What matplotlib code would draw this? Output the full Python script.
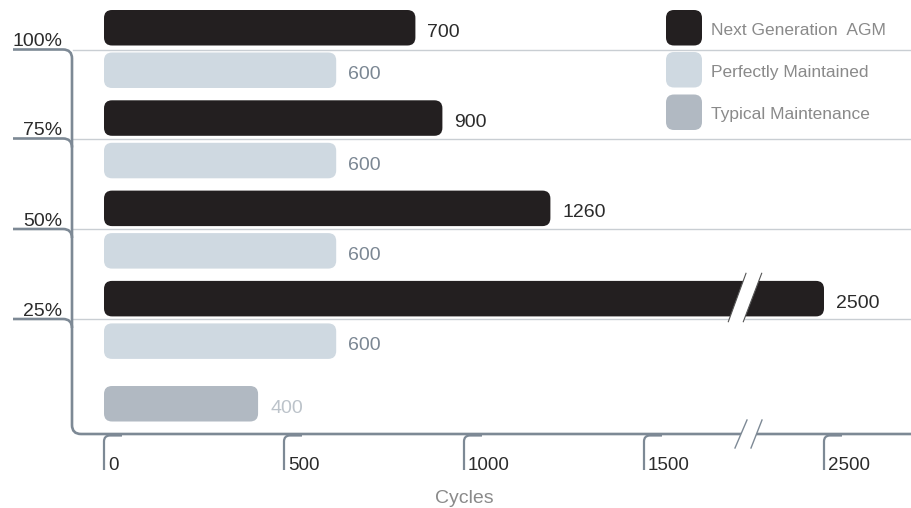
import matplotlib
matplotlib.use("Agg")
import matplotlib.pyplot as plt
from matplotlib.patches import FancyBboxPatch, PathPatch, Polygon
from matplotlib.path import Path

# ---------------- data ----------------
pct_labels = ["100%", "75%", "50%", "25%"]
agm_values = [700, 900, 1260, 2500]          # printed values
agm_extent = [865, 940, 1240, 2500]          # bar ends as read against the axis
pm_values = [600, 600, 600, 600]
pm_extent = [645, 645, 645, 645]
typ_values = [400]
typ_extent = [428]
tick_values = [0, 500, 1000, 1500, 2500]
series_names = ["Next Generation  AGM", "Perfectly Maintained", "Typical Maintenance"]
x_title = "Cycles"

# ---------------- style ----------------
C_AGM = "#231f20"
C_PM = "#cfd9e1"
C_TYP = "#b1b9c2"
C_BRACKET = "#7d8995"
C_GRID = "#c9ced3"
C_TXT = "#2b2b2b"
C_PMTXT = "#7b8793"
C_TYPTXT = "#bcc3ca"
C_LEG = "#8a8a8a"
FONT = "Liberation Sans"

W, H = 911, 508
ORIGIN_PX = 104
PX_PER_CYCLE = 0.36
BREAK_AT, BREAK_GAP = 1750, 500


def brk(v):
    return v if v <= BREAK_AT else v - BREAK_GAP


def u(px):  # pixel length -> x data units
    return px / PX_PER_CYCLE


fig = plt.figure(figsize=(W / 100, H / 100), dpi=100)
deco = fig.add_axes([0, 0, 1, 1])
deco.set_xlim(0, W)
deco.set_ylim(H, 0)
deco.axis("off")

ax = fig.add_axes([0, 0, 1, 1])
ax.set_xlim(-ORIGIN_PX / PX_PER_CYCLE, (W - ORIGIN_PX) / PX_PER_CYCLE)
ax.set_ylim(H, 0)
ax.axis("off")
ax.patch.set_alpha(0)

# ---------------- gridlines & bracket ----------------
grid_y = [49.5, 138.5, 229, 319]
for gy in grid_y:
    deco.plot([73, W], [gy, gy], color=C_GRID, lw=1.0, zorder=1)

bx, by_bot, r = 72, 434, 9
verts = [(13, grid_y[0]), (bx - r, grid_y[0]), (bx, grid_y[0]), (bx, grid_y[0] + r),
         (bx, by_bot - r), (bx, by_bot), (bx + r, by_bot), (W, by_bot)]
codes = [Path.MOVETO, Path.LINETO, Path.CURVE3, Path.CURVE3,
         Path.LINETO, Path.CURVE3, Path.CURVE3, Path.LINETO]
deco.add_patch(PathPatch(Path(verts, codes), fill=False, ec=C_BRACKET, lw=1.9, zorder=3,
                         capstyle="butt"))
for gy in grid_y[1:]:
    v = [(13, gy), (bx - r, gy), (bx, gy), (bx, gy + r)]
    c = [Path.MOVETO, Path.LINETO, Path.CURVE3, Path.CURVE3]
    deco.add_patch(PathPatch(Path(v, c), fill=False, ec=C_BRACKET, lw=1.9, zorder=3))

for lab, gy in zip(pct_labels, grid_y):
    deco.text(62, gy - 3.5, lab, ha="right", va="baseline", fontsize=14,
              color=C_TXT, family=FONT)

# axis break on bottom line
deco.add_patch(Polygon([(735, 448), (747, 420), (762, 420), (751, 448)],
                       closed=True, fc="white", ec="none", zorder=4))
deco.plot([735, 747], [448, 420], color=C_BRACKET, lw=1.0, zorder=5)
deco.plot([751, 762], [448, 420], color=C_BRACKET, lw=1.0, zorder=5)

# ---------------- bars ----------------
PITCH = 90.3
BAR_H = 35.5
RADIUS = u(8)
ASPECT = PX_PER_CYCLE


def rbar(x_end, top, color):
    ax.add_patch(FancyBboxPatch((0, top), brk(x_end), BAR_H,
                                boxstyle=f"round,pad=0,rounding_size={RADIUS}",
                                mutation_aspect=ASPECT, fc=color, ec="none", zorder=2))


def vlabel(x_end, top, val, color):
    ax.text(brk(x_end) + u(12), top + BAR_H / 2 + 9, f"{val}", ha="left", va="baseline",
            fontsize=14, color=color, family=FONT, zorder=6)


for i, (ext, val) in enumerate(zip(agm_extent, agm_values)):
    top = 10 + i * PITCH
    rbar(ext, top, C_AGM)
    vlabel(ext, top, val, C_TXT)
for i, (ext, val) in enumerate(zip(pm_extent, pm_values)):
    top = 52.5 + i * PITCH
    rbar(ext, top, C_PM)
    vlabel(ext, top, val, C_PMTXT)
for ext, val in zip(typ_extent, typ_values):
    top = 386
    rbar(ext, top, C_TYP)
    vlabel(ext, top, val, C_TYPTXT)

# break on the longest bar
deco.add_patch(Polygon([(728.3, 321.7), (746, 273.3), (761.7, 273.3), (743.3, 321.7)],
                       closed=True, fc="white", ec="none", zorder=7))
deco.set_zorder(ax.get_zorder() + 1)
deco.patch.set_alpha(0)
deco.plot([728.3, 746], [321.7, 273.3], color="#555555", lw=0.8, zorder=8)
deco.plot([743.3, 761.7], [321.7, 273.3], color="#555555", lw=0.8, zorder=8)

# ---------------- ticks ----------------
for tv in tick_values:
    d = brk(tv)
    v = [(d, 470), (d, 441.5), (d, 435.5), (d + u(6), 435.5), (d + u(18), 435.5)]
    c = [Path.MOVETO, Path.LINETO, Path.CURVE3, Path.CURVE3, Path.LINETO]
    ax.add_patch(PathPatch(Path(v, c), fill=False, ec=C_BRACKET, lw=1.6, zorder=3))
    ax.text(d + u(4), 470, f"{tv}", ha="left", va="baseline", fontsize=13.5,
            color=C_TXT, family=FONT)

ax.text(brk(1000), 503, x_title, ha="center", va="baseline", fontsize=14,
        color=C_LEG, family=FONT)

# ---------------- legend ----------------
leg_colors = [C_AGM, C_PM, C_TYP]
leg_tops = [10, 52, 94.5]
for name, col, t in zip(series_names, leg_colors, leg_tops):
    deco.add_patch(FancyBboxPatch((666, t), 36, 35.5,
                                  boxstyle="round,pad=0,rounding_size=8",
                                  fc=col, ec="none", zorder=2))
    deco.text(711, t + 25, name, ha="left", va="baseline", fontsize=12.5,
              color=C_LEG, family=FONT)

fig.savefig("out.png", dpi=100)
